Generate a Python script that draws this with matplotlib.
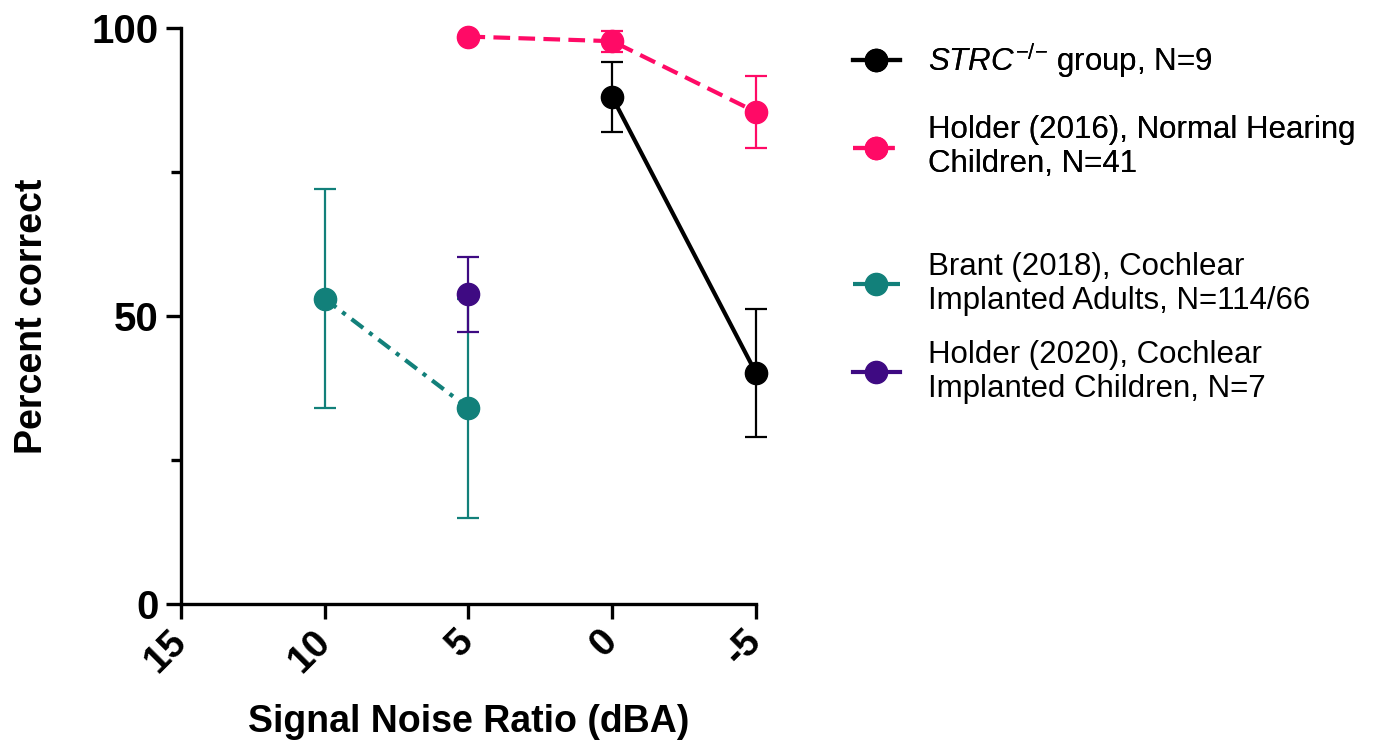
import matplotlib
matplotlib.use("Agg")
import matplotlib.pyplot as plt
from matplotlib.lines import Line2D

plt.rcParams['font.family'] = ['Liberation Sans', 'DejaVu Sans']
plt.rcParams['mathtext.fontset'] = 'custom'
plt.rcParams['mathtext.rm'] = 'Liberation Sans'
plt.rcParams['mathtext.it'] = 'Liberation Sans:italic'

# values (x = signal/noise ratio in dBA, y = percent correct, err = error bar)
strc_x = [0, -5]
strc_y = [88.0, 40.1]
strc_err = [6.0, 11.1]

holder16_x = [5, 0, -5]
holder16_y = [98.5, 97.7, 85.4]
holder16_err = [0, 1.8, 6.3]

brant_x = [10, 5]
brant_y = [53.0, 34.0]
brant_err = [19.0, 19.0]

holder20_x = [5]
holder20_y = [53.8]
holder20_err = [6.5]

xticks = [15, 10, 5, 0, -5]
yticks = [0, 50, 100]

black = "black"
pink = "#FF0A66"
teal = "#12807A"
purple = "#3E0A82"
dash = (0, (4, 2))
dashdot = (0, (3.5, 1.8, 1, 1.8))

fig = plt.figure(figsize=(13.78, 7.53), dpi=100)
ax = fig.add_axes([0.1313, 0.1979, 0.4173, 0.765])

def series(x, y, err, color, ls, z):
    ax.errorbar(x, y, yerr=err, color=color, ecolor=color, elinewidth=1.6,
                capsize=8, capthick=1.6, linestyle='none', zorder=z, clip_on=False)
    ax.plot(x, y, color=color, linestyle=ls, linewidth=3, marker='o',
            markersize=16, zorder=z + 0.5, clip_on=False)

series(brant_x, brant_y, brant_err, teal, dashdot, 2)
series(holder20_x, holder20_y, holder20_err, purple, '-', 3)
series(holder16_x, holder16_y, holder16_err, pink, dash, 4)
series(strc_x, strc_y, strc_err, black, '-', 5)

ax.set_xlim(15, -5)
ax.set_ylim(0, 100)
ax.set_xticks(xticks)
ax.set_xticklabels([str(v) for v in xticks], fontsize=28, fontweight='bold')
ax.set_yticks(yticks)
ax.set_yticklabels([str(v) for v in yticks], fontsize=29, fontweight='bold')
ax.set_yticks([25, 75], minor=True)
for s in ['top', 'right']:
    ax.spines[s].set_visible(False)
for s in ['left', 'bottom']:
    ax.spines[s].set_linewidth(2.4)
ax.tick_params(axis='both', which='major', direction='out', length=11, width=2.4, pad=5)
ax.tick_params(axis='y', which='minor', direction='out', length=7, width=2.4)
ax.tick_params(axis='x', pad=12)
for lab in ax.get_xticklabels():
    lab.set_rotation(45)
    lab.set_rotation_mode('anchor')
    lab.set_ha('right')
    lab.set_va('center')
ax.set_xlabel("Signal Noise Ratio (dBA)", fontsize=27, fontweight='bold', labelpad=18)
ax.set_ylabel("Percent correct", fontsize=27, fontweight='bold', labelpad=30)

def handle(color, ls):
    return Line2D([0], [0], color=color, linestyle=ls, linewidth=3,
                  marker='o', markersize=16)

leg_kw = dict(loc='upper left', frameon=False, fontsize=22.5, handlelength=1.5,
              handletextpad=0.9, borderpad=0, borderaxespad=0)
leg1 = fig.legend([handle(black, '-'), handle(pink, dash)],
                  [r"$\mathit{STRC}^{{-}/{-}}$ group, N=9",
                   "Holder (2016), Normal Hearing\nChildren, N=41"],
                  bbox_to_anchor=(0.619, 0.945), labelspacing=1.1, **leg_kw)
fig.legend([handle(teal, dashdot), handle(purple, '-')],
           ["Brant (2018), Cochlear\nImplanted Adults, N=114/66",
            "Holder (2020), Cochlear\nImplanted Children, N=7"],
           bbox_to_anchor=(0.619, 0.666), labelspacing=0.75, **leg_kw)
fig.add_artist(leg1)

fig.savefig("out.png", dpi=100)
